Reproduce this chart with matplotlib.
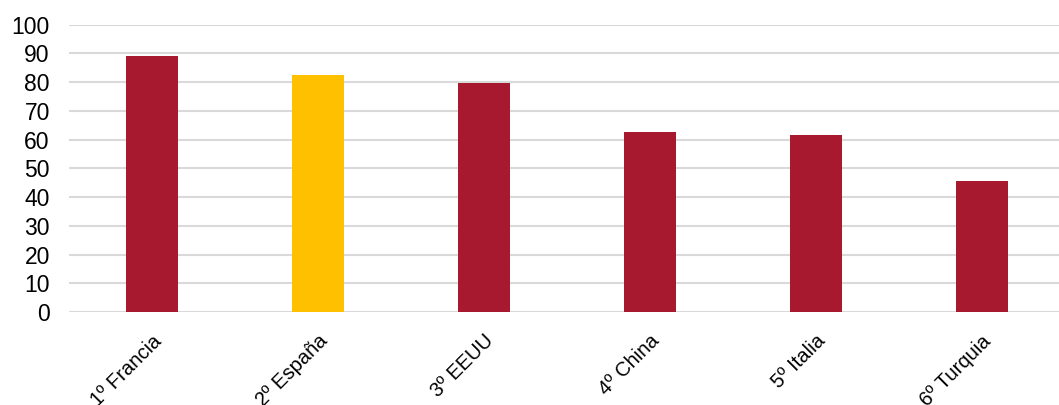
import numpy as np
import matplotlib
matplotlib.use("Agg")
import matplotlib.pyplot as plt

plt.rcParams['font.family'] = ['Liberation Sans', 'DejaVu Sans']

# datos
paises = ["1º Francia", "2º España", "3º EEUU", "4º China", "5º Italia", "6º Turquia"]
valores = [89.1, 82.5, 79.7, 62.8, 61.5, 45.7]
colores = ["#A6192E", "#FFC000", "#A6192E", "#A6192E", "#A6192E", "#A6192E"]

fig = plt.figure(figsize=(10.59, 4.05), dpi=100)
ax = fig.add_axes([0.0654, 0.2296, 0.94, 0.7094])

x = np.arange(len(paises))
ax.bar(x, valores, width=0.315, color=colores, zorder=3)

ax.set_xlim(-0.5, len(paises) - 0.5)
ax.set_ylim(0, 100)
ax.set_yticks(np.arange(0, 101, 10))
ax.set_xticks(x)
ax.set_xticklabels(paises, rotation=45, ha='right', rotation_mode='anchor', fontsize=14.5)
ax.tick_params(axis='y', labelsize=16.5, length=0, pad=14)
ax.tick_params(axis='x', length=0, pad=14)

ax.grid(axis='y', color='#d9d9d9', linewidth=1.5, zorder=0)
ax.set_axisbelow(True)
for s in ax.spines.values():
    s.set_visible(False)

fig.savefig("out.png", dpi=100)
